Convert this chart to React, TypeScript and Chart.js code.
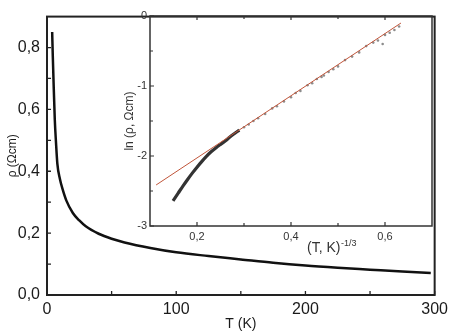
import React, { useEffect, useRef } from 'react';
import { Chart, registerables } from 'chart.js';

Chart.register(...registerables);

const FONT = "'Liberation Sans', Arial, Helvetica, sans-serif";

// Main plot: resistivity vs temperature
const temperatureK = [4, 4.5, 5, 6, 7, 8, 10, 12, 15, 20, 25, 30, 40, 50, 60, 80, 100, 125, 150, 175, 200, 225, 250, 275, 297];
const resistivity = [0.85, 0.77, 0.70, 0.57, 0.49, 0.425, 0.375, 0.343, 0.305, 0.265, 0.241, 0.222, 0.198, 0.182, 0.17, 0.152, 0.138, 0.126, 0.115, 0.104, 0.095, 0.088, 0.082, 0.076, 0.071];
const mainXTicks = [0, 100, 200, 300];
const mainXMinor = [50, 150, 250];
const mainYTicks = [0, 0.2, 0.4, 0.6, 0.8];
const mainYMinor = [0.1, 0.3, 0.5, 0.7];

// Inset: ln(rho) vs T^(-1/3)
const insetCurveX = [0.149, 0.16, 0.17, 0.18, 0.19, 0.2, 0.21, 0.22, 0.23, 0.24, 0.25, 0.26, 0.27, 0.28, 0.29];
const insetCurveLn = [-2.64, -2.53, -2.43, -2.335, -2.245, -2.16, -2.08, -2.005, -1.94, -1.885, -1.835, -1.787, -1.728, -1.678, -1.63];
const insetDotsX = [0.3, 0.31, 0.32, 0.33, 0.345, 0.36, 0.37, 0.385, 0.4, 0.41, 0.42, 0.435, 0.445, 0.455, 0.465, 0.47, 0.48, 0.49, 0.5, 0.515, 0.53, 0.545, 0.56, 0.575, 0.585, 0.595, 0.6, 0.61, 0.62, 0.63];
const insetDotsLn = [-1.59, -1.55, -1.5, -1.46, -1.4, -1.32, -1.29, -1.22, -1.16, -1.1, -1.07, -0.99, -0.96, -0.9, -0.87, -0.85, -0.8, -0.76, -0.72, -0.63, -0.58, -0.52, -0.43, -0.38, -0.35, -0.4, -0.27, -0.24, -0.2, -0.15];
const fitX = [0.113, 0.634];
const fitLn = [-2.414, -0.1];
const insetXTicks = [0.2, 0.4, 0.6];
const insetXMinor = [0.3, 0.5];
const insetYTicks = [-3, -2, -1, 0];
const insetYMinor = [-2.5, -1.5, -0.5];

const comma = (v: number, d: number) => Number(v).toFixed(d).replace('.', ',');
const pts = (xs: number[], ys: number[]) => xs.map((x, i) => ({ x, y: ys[i] }));

function frameTicks(cfg: {
  color: string; frameWidth: number; tickWidth: number; major: number; minor: number; topTicks: boolean;
  xMajor: number[]; xMinor: number[]; yMajor: number[]; yMinor: number[];
}) {
  return {
    id: 'frameTicks',
    afterDraw(chart: any) {
      const { ctx, chartArea: a, scales } = chart;
      const xs = scales.x, ys = scales.y;
      ctx.save();
      ctx.strokeStyle = cfg.color;
      ctx.lineWidth = cfg.tickWidth;
      ctx.beginPath();
      const xt = (vals: number[], len: number) => vals.forEach((v) => {
        const p = xs.getPixelForValue(v);
        ctx.moveTo(p, a.bottom); ctx.lineTo(p, a.bottom - len);
        if (cfg.topTicks) { ctx.moveTo(p, a.top); ctx.lineTo(p, a.top + len); }
      });
      const yt = (vals: number[], len: number) => vals.forEach((v) => {
        const p = ys.getPixelForValue(v);
        ctx.moveTo(a.left, p); ctx.lineTo(a.left + len, p);
      });
      xt(cfg.xMajor, cfg.major); xt(cfg.xMinor, cfg.minor);
      yt(cfg.yMajor, cfg.major); yt(cfg.yMinor, cfg.minor);
      ctx.stroke();
      ctx.lineWidth = cfg.frameWidth;
      ctx.strokeRect(a.left, a.top, a.right - a.left, a.bottom - a.top);
      ctx.restore();
    },
  };
}

const insetXTitle = {
  id: 'insetXTitle',
  afterDraw(chart: any) {
    const { ctx, chartArea: a } = chart;
    ctx.save();
    ctx.fillStyle = '#333';
    ctx.textBaseline = 'alphabetic';
    ctx.textAlign = 'left';
    ctx.font = `14px ${FONT}`;
    const x0 = a.left + 157;
    const base = a.bottom + 26;
    ctx.fillText('(T, K)', x0, base);
    const w = ctx.measureText('(T, K)').width;
    ctx.font = `9px ${FONT}`;
    ctx.fillText('-1/3', x0 + w + 0.5, base - 6);
    ctx.restore();
  },
};

export default function App() {
  const mainRef = useRef<HTMLCanvasElement>(null);
  const insetRef = useRef<HTMLCanvasElement>(null);

  useEffect(() => {
    const textColor = '#1a1a1a';
    const main = new Chart(mainRef.current as HTMLCanvasElement, {
      type: 'line',
      data: {
        datasets: [{
          data: pts(temperatureK, resistivity),
          borderColor: '#111',
          borderWidth: 2.5,
          pointRadius: 0,
          cubicInterpolationMode: 'monotone',
          fill: false,
        }],
      },
      options: {
        responsive: false,
        animation: false,
        layout: { padding: { top: 8, right: 16, left: 0, bottom: 0 } },
        plugins: { legend: { display: false }, tooltip: { enabled: false } },
        scales: {
          x: {
            type: 'linear', min: 0, max: 300,
            grid: { display: false, drawTicks: false },
            border: { display: false },
            afterBuildTicks: (s: any) => { s.ticks = mainXTicks.map((v) => ({ value: v })); },
            afterFit: (s: any) => { s.height = 38; },
            ticks: { color: textColor, font: { family: FONT, size: 16 }, padding: 5, maxRotation: 0, autoSkip: false, callback: (v: any) => String(v) },
            title: { display: true, text: 'T (K)', color: textColor, font: { family: FONT, size: 14 }, padding: { top: 0, bottom: 0 } },
          },
          y: {
            type: 'linear', min: 0, max: 0.9,
            grid: { display: false, drawTicks: false },
            border: { display: false },
            afterBuildTicks: (s: any) => { s.ticks = mainYTicks.map((v) => ({ value: v })); },
            afterFit: (s: any) => { s.width = 47; },
            ticks: { color: textColor, font: { family: FONT, size: 16 }, padding: 7, autoSkip: false, callback: (v: any) => comma(v, 1) },
            title: { display: true, text: 'ρ (Ωcm)', color: textColor, font: { family: FONT, size: 12 }, padding: { top: 5, bottom: 0 } },
          },
        },
      } as any,
      plugins: [frameTicks({ color: '#222', frameWidth: 2, tickWidth: 1.3, major: 4, minor: 4, topTicks: false, xMajor: mainXTicks, xMinor: mainXMinor, yMajor: mainYTicks, yMinor: mainYMinor })],
    });

    const insetColor = '#333';
    const inset = new Chart(insetRef.current as HTMLCanvasElement, {
      type: 'line',
      data: {
        datasets: [
          { data: pts(fitX, fitLn), borderColor: '#c0553a', borderWidth: 1, pointRadius: 0, fill: false },
          { data: pts(insetCurveX, insetCurveLn), borderColor: '#333', borderWidth: 3.2, pointRadius: 0, cubicInterpolationMode: 'monotone', fill: false },
          { data: pts(insetDotsX, insetDotsLn), showLine: false, pointRadius: 1.3, pointBackgroundColor: '#8c8c8c', pointBorderWidth: 0 },
        ],
      },
      options: {
        responsive: false,
        animation: false,
        layout: { padding: { top: 16, right: 21, left: 0, bottom: 0 } },
        plugins: { legend: { display: false }, tooltip: { enabled: false } },
        scales: {
          x: {
            type: 'linear', min: 0.1, max: 0.7,
            grid: { display: false, drawTicks: false },
            border: { display: false },
            afterBuildTicks: (s: any) => { s.ticks = insetXTicks.map((v) => ({ value: v })); },
            afterFit: (s: any) => { s.height = 36; },
            ticks: { color: insetColor, font: { family: FONT, size: 11 }, padding: 4, maxRotation: 0, autoSkip: false, callback: (v: any) => comma(v, 1) },
          },
          y: {
            type: 'linear', min: -3, max: 0,
            grid: { display: false, drawTicks: false },
            border: { display: false },
            afterBuildTicks: (s: any) => { s.ticks = insetYTicks.map((v) => ({ value: v })); },
            afterFit: (s: any) => { s.width = 50; },
            ticks: { color: insetColor, font: { family: FONT, size: 11 }, padding: 3, autoSkip: false, callback: (v: any) => String(v) },
            title: { display: true, text: 'ln (ρ, Ωcm)', color: insetColor, font: { family: FONT, size: 12 }, padding: { top: 22, bottom: 0 } },
          },
        },
      } as any,
      plugins: [
        frameTicks({ color: '#333', frameWidth: 1.5, tickWidth: 1.2, major: 4, minor: 3, topTicks: true, xMajor: insetXTicks, xMinor: insetXMinor, yMajor: insetYTicks, yMinor: insetYMinor }),
        insetXTitle,
      ],
    });

    return () => { main.destroy(); inset.destroy(); };
  }, []);

  return (
    <div style={{ position: 'absolute', left: 0, top: 0, width: 453, height: 333, background: '#fff' }}>
      <canvas ref={mainRef} width={453} height={333} style={{ position: 'absolute', left: 0, top: 0 }} />
      <canvas ref={insetRef} width={353} height={262} style={{ position: 'absolute', left: 100, top: 0 }} />
    </div>
  );
}
